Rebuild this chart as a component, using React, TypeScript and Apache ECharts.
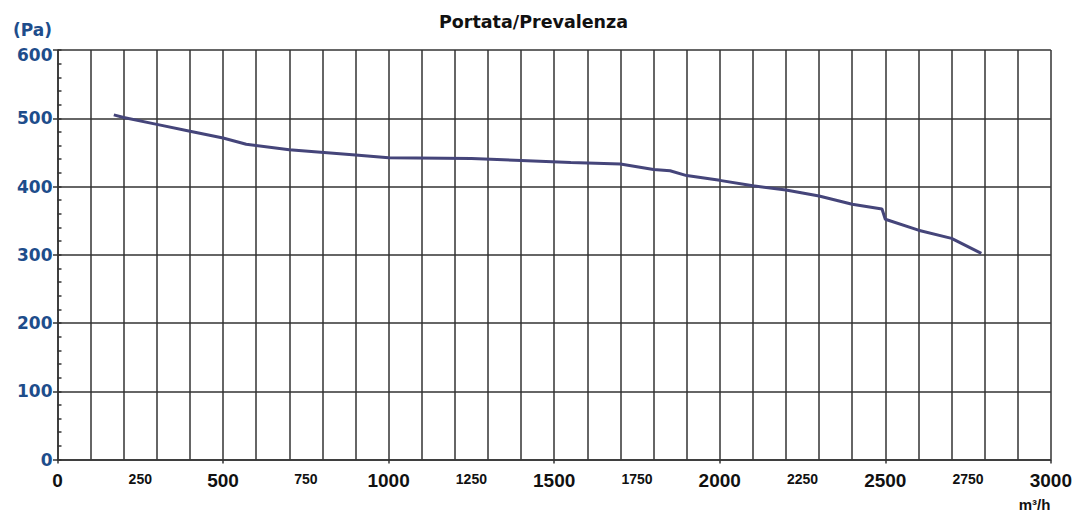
import React, { useEffect, useRef } from "react";
import * as echarts from "echarts";

const flow = [170, 200, 300, 400, 500, 570, 700, 900, 1000, 1250, 1400, 1550, 1700, 1800, 1850, 1900, 2000, 2100, 2200, 2300, 2400, 2490, 2500, 2600, 2700, 2790];
const pressure = [505, 501, 491, 481, 471, 462, 454, 446, 442, 441, 438, 435, 433, 425, 423, 416, 409, 401, 395, 386, 374, 367, 352, 336, 324, 302];

const titleText = "Portata/Prevalenza";
const yUnit = "(Pa)";
const xUnit = "m³/h";

const gridColor = "#333";
const blue = "#1e4d8b";

export default function App() {
  const ref = useRef<HTMLDivElement>(null);
  useEffect(() => {
    if (!ref.current) return;
    const chart = echarts.init(ref.current, undefined, { renderer: "svg" });
    const lineStyle = { color: gridColor, width: 1.5 };
    const data = flow.map((f, i) => [f, pressure[i]]);
    chart.setOption({
      animation: false,
      backgroundColor: "#fff",
      grid: { left: 57.5, right: 22, top: 50, bottom: 53.5, containLabel: false },
      graphic: [
        {
          type: "text",
          x: 533.5,
          y: 22,
          style: {
            text: titleText,
            fontFamily: "DejaVu Sans",
            fontWeight: "bold",
            fontSize: 17.5,
            fill: "#111",
            align: "center",
            verticalAlign: "middle",
          },
        },
        {
          type: "text",
          x: 52,
          y: 30,
          style: {
            text: yUnit,
            fontFamily: "DejaVu Sans",
            fontWeight: "bold",
            fontSize: 17,
            fill: blue,
            align: "right",
            verticalAlign: "middle",
          },
        },
        {
          type: "text",
          x: 1034.5,
          y: 504.4,
          style: {
            text: xUnit,
            fontFamily: "Liberation Sans",
            fontWeight: "bold",
            fontSize: 15,
            fill: "#111",
            align: "center",
            verticalAlign: "middle",
          },
        },
      ],
      xAxis: [
        {
          type: "value",
          min: 0,
          max: 3000,
          interval: 100,
          position: "bottom",
          axisLine: { show: true, onZero: false, lineStyle },
          axisTick: { show: false },
          axisLabel: { show: false },
          splitLine: { show: true, lineStyle },
        },
        {
          type: "value",
          min: 0,
          max: 3000,
          interval: 250,
          position: "bottom",
          axisLine: { show: false, onZero: false },
          axisTick: { show: false },
          splitLine: { show: false },
          axisLabel: {
            show: true,
            margin: 10.5,
            verticalAlign: "top",
            formatter: (v: number) => (v % 500 === 0 ? `{a|${v}}` : `{b|${v}}`),
            rich: {
              a: {
                fontFamily: "Liberation Sans",
                fontWeight: "bold",
                fontSize: 19,
                lineHeight: 20,
                color: "#111",
              },
              b: {
                fontFamily: "Liberation Sans",
                fontWeight: "bold",
                fontSize: 14,
                lineHeight: 14,
                padding: [4.5, 0, 0, 0],
                color: "#111",
              },
            },
          },
        },
        {
          type: "value",
          min: 0,
          max: 3000,
          interval: 500,
          position: "bottom",
          axisLine: { show: false, onZero: false },
          axisTick: { show: true, length: 4, lineStyle },
          axisLabel: { show: false },
          splitLine: { show: false },
        },
      ],
      yAxis: [
        {
          type: "value",
          min: 0,
          max: 600,
          interval: 100,
          position: "left",
          axisLine: { show: true, onZero: false, lineStyle },
          axisTick: { show: true, length: 4.5, lineStyle },
          splitLine: { show: true, lineStyle },
          axisLabel: {
            show: true,
            margin: 5,
            fontFamily: "DejaVu Sans",
            fontWeight: "bold",
            fontSize: 17,
            color: blue,
            formatter: (v: number) => (v === 600 ? `{t|${v}}` : `{n|${v}}`),
            rich: {
              t: {
                fontFamily: "DejaVu Sans",
                fontWeight: "bold",
                fontSize: 17,
                color: blue,
                padding: [10, 0, 0, 0],
              },
              n: {
                fontFamily: "DejaVu Sans",
                fontWeight: "bold",
                fontSize: 17,
                color: blue,
              },
            },
          },
        },
        {
          type: "value",
          min: 0,
          max: 600,
          interval: 20,
          position: "left",
          axisLine: { show: false, onZero: false },
          axisTick: { show: true, inside: true, length: 4, lineStyle },
          axisLabel: { show: false },
          splitLine: { show: false },
        },
      ],
      series: [
        {
          type: "line",
          xAxisIndex: 0,
          yAxisIndex: 0,
          data,
          showSymbol: false,
          symbol: "none",
          lineStyle: { color: "#45457a", width: 3 },
          z: 5,
        },
      ],
    });
    return () => chart.dispose();
  }, []);
  return (
    <div
      ref={ref}
      style={{ position: "fixed", left: 0, top: 0, width: 1075, height: 513 }}
    />
  );
}
